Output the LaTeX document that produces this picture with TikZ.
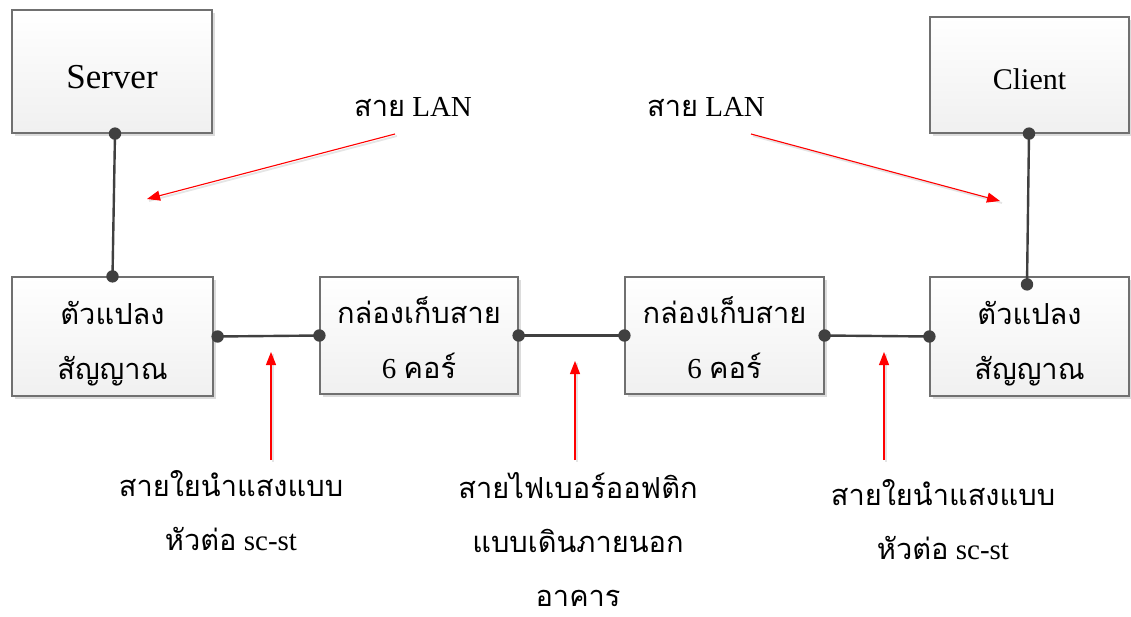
\documentclass[tikz,border=0pt]{standalone}
\usepackage{fontspec}
\setmainfont{Liberation Serif}
\newfontfamily\thai[Script=Thai]{Loma}
\usetikzlibrary{arrows.meta,shadows,calc}
\definecolor{boxedge}{HTML}{707070}
\definecolor{boxbot}{HTML}{F0F0F0}
\definecolor{shadowgray}{HTML}{DCDCDC}
\definecolor{conn}{HTML}{404040}
\newcommand{\lowerby}[2]{\raisebox{-#1}[\height][\depth]{#2}}
\newcommand{\twoline}[2]{\lowerby{4pt}{\begin{tabular}{@{}c@{}}#1\\#2\end{tabular}}}
\begin{document}
\begin{tikzpicture}[x=1pt,y=-1pt,
  box/.style={draw=boxedge, line width=1.2pt, top color=white, bottom color=boxbot,
    inner sep=0pt, align=center,
    drop shadow={shadow xshift=3pt, shadow yshift=-3pt, fill=shadowgray, opacity=1}},
  boxtxt/.style={font=\fontsize{29}{55}\selectfont},
  lbl/.style={align=center, inner sep=0pt, font=\fontsize{29}{54}\selectfont},
  wire/.style={draw=conn, line width=2.4pt},
  dot/.style={fill=conn},
  redarr/.style={draw=red, line width=1.1pt, -{Triangle[length=13pt,width=10pt]}},
  arrshadow/.style={draw=black!10, line width=1.8pt}
]
\useasboundingbox (0,0) rectangle (1131,617);
% boxes
\node[box, minimum width=200pt, minimum height=123pt, font=\fontsize{35}{40}\selectfont] (srv) at (112,71.5) {\lowerby{6pt}{Server}};
\node[box, minimum width=199pt, minimum height=116pt, font=\fontsize{30}{40}\selectfont] (cli) at (1029.5,75) {\lowerby{4pt}{Client}};
\node[box, boxtxt, minimum width=201pt, minimum height=119pt] (cv1) at (112.5,336.5) {\twoline{\thai ตัวแปลง}{\thai สัญญาณ}};
\node[box, boxtxt, minimum width=198pt, minimum height=117pt] (bx1) at (419,335.5) {\twoline{\thai กล่องเก็บสาย}{6 {\thai คอร์}}};
\node[box, boxtxt, minimum width=199pt, minimum height=117pt] (bx2) at (724.5,335.5) {\twoline{\thai กล่องเก็บสาย}{6 {\thai คอร์}}};
\node[box, boxtxt, minimum width=199pt, minimum height=119pt] (cv2) at (1029.5,336.5) {\twoline{\thai ตัวแปลง}{\thai สัญญาณ}};
% connection points
\coordinate (srvb) at ($(srv.south)+(3,0)$);
\coordinate (cv1t) at (cv1.north);
\coordinate (clib) at ($(cli.south)+(-0.5,0)$);
\coordinate (cv2t) at ($(cv2.north)+(-2.5,8)$);
\coordinate (cv1r) at ($(cv1.east)+(4,0)$);
\coordinate (bx1l) at (bx1.west);
\coordinate (bx1r) at (bx1.east);
\coordinate (bx2l) at (bx2.west);
\coordinate (bx2r) at (bx2.east);
\coordinate (cv2l) at (cv2.west);
% wires
\draw[wire] (srvb) -- (cv1t);
\draw[wire] (clib) -- (cv2t);
\draw[wire] (cv1r) -- (bx1l);
\draw[wire] (bx1r) -- (bx2l);
\draw[wire] (bx2r) -- (cv2l);
\foreach \p in {srvb,cv1t,clib,cv2t,cv1r,bx1l,bx1r,bx2l,bx2r,cv2l}
  \fill[dot] (\p) circle (6.2pt);
% labels
\node[lbl] (lan1) at (413,107) {{\thai สาย} LAN};
\node[lbl] (lan2) at (706,107) {{\thai สาย} LAN};
\node[lbl] (f1) at (231,511) {\thai สายใยนำแสงแบบ\\{\thai หัวต่อ} sc-st};
\node[lbl] (f2) at (578,540) {\thai สายไฟเบอร์ออฟติก\\\thai แบบเดินภายนอก\\\thai อาคาร};
\node[lbl] (f3) at (943,520) {\thai สายใยนำแสงแบบ\\{\thai หัวต่อ} sc-st};
% arrow ends
\coordinate (a1s) at (395,134);
\coordinate (a1e) at (147,199);
\coordinate (a2s) at (751,134);
\coordinate (a2e) at (1000,201);
\coordinate (u1s) at (271,460);
\coordinate (u1e) at (271,352);
\coordinate (u2s) at (575,460);
\coordinate (u2e) at (575,361);
\coordinate (u3s) at (884,460);
\coordinate (u3e) at (884,352);
\foreach \s/\e in {a1s/a1e,a2s/a2e,u1s/u1e,u2s/u2e,u3s/u3e}{
  \draw[arrshadow] ($(\s)+(2,2)$) -- ($(\e)+(2,2)$);
  \draw[redarr] (\s) -- (\e);
}
\end{tikzpicture}
\end{document}
